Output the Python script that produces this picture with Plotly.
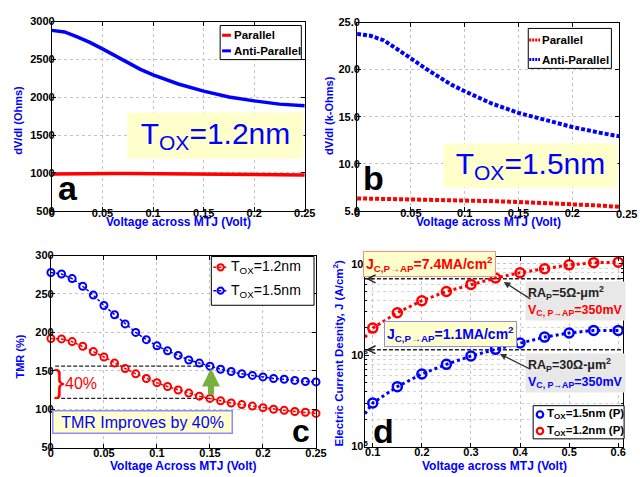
import numpy as np
import plotly.graph_objects as go

W, H = 640, 477
def X(px): return px / W
def Y(py): return 1 - py / H

FONT = "Liberation Sans"
BLUE = "#0000ff"
RED = "#ff0000"

# ---------------- data ----------------
# Panel a (Tox = 1.2 nm), dV/dI in Ohms
va = [0, 0.0125, 0.025, 0.0375, 0.05, 0.0625, 0.075, 0.0875, 0.1, 0.125, 0.15, 0.175, 0.2, 0.225, 0.25]
a_ap = [2884, 2863, 2798, 2725, 2639, 2549, 2454, 2369, 2296, 2175, 2081, 2003, 1952, 1909, 1887]
a_p = [985, 988, 990, 991, 992, 992, 991, 990, 989, 987, 985, 982, 979, 975, 972]

# Panel b (Tox = 1.5 nm), dV/dI in k-Ohms
vb = [0, 0.0125, 0.025, 0.0375, 0.05, 0.0625, 0.075, 0.0875, 0.1, 0.125, 0.15, 0.175, 0.2, 0.225, 0.244]
b_ap = [23.8, 23.6, 23.1, 22.2, 21.2, 20.2, 19.3, 18.4, 17.7, 16.4, 15.4, 14.6, 13.9, 13.3, 12.9]
b_p = [6.31, 6.29, 6.27, 6.26, 6.24, 6.22, 6.19, 6.15, 6.10, 6.02, 5.93, 5.82, 5.69, 5.55, 5.41]

# Panel c TMR (%)
vc = [round(0.01 * i, 2) for i in range(26)]
tmr_15 = [278, 276, 270, 260, 248.5, 235, 223, 211, 200, 190.5, 182.5, 176, 170, 164, 160, 156,
          152, 149, 146, 144, 142, 140, 139, 137.5, 136, 135.5]
tmr_12 = [192, 191.5, 188, 182, 175, 168, 160, 153, 146, 140, 134.5, 129.5, 125, 121, 117, 114,
          111, 108, 106, 104, 102, 100, 98.5, 97, 96, 94.5]
tmr_levels = [156, 114]

# Panel d current density (A/cm^2)
vd = [0.1, 0.15, 0.2, 0.25, 0.3, 0.35, 0.4, 0.45, 0.5, 0.55, 0.6]
j_12 = [1.98e6, 2.92e6, 3.95e6, 4.98e6, 5.96e6, 7.0e6, 8.0e6, 8.85e6, 9.75e6, 1.03e7, 1.04e7]
j_15 = [3.0e5, 4.53e5, 6.24e5, 7.95e5, 9.8e5, 1.16e6, 1.36e6, 1.58e6, 1.75e6, 1.87e6, 1.87e6]
vd_edge = 0.084
j_12_edge = 1.57e6
j_15_edge = 2.29e5
j_levels = [6.85e6, 1.15e6]

fig = go.Figure()

# ---------------- traces ----------------
fig.add_trace(go.Scatter(x=va, y=a_p, mode="lines", line=dict(color=RED, width=3.5),
                         xaxis="x", yaxis="y", showlegend=False))
fig.add_trace(go.Scatter(x=va, y=a_ap, mode="lines", line=dict(color=BLUE, width=3.5),
                         xaxis="x", yaxis="y", showlegend=False))

fig.add_trace(go.Scatter(x=vb, y=b_p, mode="lines", line=dict(color=RED, width=4, dash="4px,2px"),
                         xaxis="x2", yaxis="y2", showlegend=False))
fig.add_trace(go.Scatter(x=vb, y=b_ap, mode="lines", line=dict(color=BLUE, width=4, dash="4px,2px"),
                         xaxis="x2", yaxis="y2", showlegend=False))

# panel c dashed guide lines
for lv in tmr_levels:
    fig.add_trace(go.Scatter(x=[0.004, 0.15], y=[lv, lv], mode="lines",
                             line=dict(color="#222222", width=1.3, dash="4px,2px"),
                             xaxis="x3", yaxis="y3", showlegend=False, hoverinfo="skip"))
fig.add_trace(go.Scatter(x=vc, y=tmr_12, mode="lines+markers",
                         line=dict(color=RED, width=1.5, dash="3px,2px"),
                         marker=dict(symbol="circle-open", size=7, color=RED, line=dict(width=2)),
                         xaxis="x3", yaxis="y3", showlegend=False, cliponaxis=False))
fig.add_trace(go.Scatter(x=vc, y=tmr_15, mode="lines+markers",
                         line=dict(color=BLUE, width=1.5, dash="3px,2px"),
                         marker=dict(symbol="circle-open", size=7, color=BLUE, line=dict(width=2)),
                         xaxis="x3", yaxis="y3", showlegend=False, cliponaxis=False))

# panel d
for lv in j_levels:
    fig.add_trace(go.Scatter(x=[vd_edge, 0.61], y=[lv, lv], mode="lines",
                             line=dict(color="#222222", width=1.5, dash="4px,2px"),
                             xaxis="x4", yaxis="y4", showlegend=False, hoverinfo="skip"))
fig.add_trace(go.Scatter(x=[vd_edge] + vd, y=[j_12_edge] + j_12, mode="lines",
                         line=dict(color=RED, width=3, dash="3px,3px"),
                         xaxis="x4", yaxis="y4", showlegend=False))
fig.add_trace(go.Scatter(x=[vd_edge] + vd, y=[j_15_edge] + j_15, mode="lines",
                         line=dict(color=BLUE, width=3, dash="3px,3px"),
                         xaxis="x4", yaxis="y4", showlegend=False))
fig.add_trace(go.Scatter(x=vd, y=j_12, mode="markers",
                         marker=dict(symbol="circle-open", size=9, color=RED, line=dict(width=2.5)),
                         xaxis="x4", yaxis="y4", showlegend=False))
fig.add_trace(go.Scatter(x=vd, y=j_15, mode="markers",
                         marker=dict(symbol="circle-open", size=9, color=BLUE, line=dict(width=2.5)),
                         xaxis="x4", yaxis="y4", showlegend=False))

# ---------------- axes ----------------
tickfont = dict(family=FONT, size=11, color="black", weight="bold")
def ax(**kw):
    d = dict(showline=True, linecolor="black", linewidth=1, mirror="ticks", ticks="inside",
             ticklen=4, tickcolor="black", showgrid=True, gridcolor="#c4c4c4", griddash="dot",
             gridwidth=1, zeroline=False, tickfont=tickfont, fixedrange=True)
    d.update(kw)
    return d

XS_AB = -8
XS_CD = -5
YS = -6
layout = dict(
    xaxis=ax(domain=[X(50), X(308.5)], range=[0, 0.25], dtick=0.05, anchor="y", ticklabelstandoff=XS_AB),
    yaxis=ax(domain=[Y(210), Y(16)], range=[500, 3000], dtick=500, anchor="x", ticklabelstandoff=YS),
    xaxis2=ax(domain=[X(362), X(630)], range=[0, 0.2436], dtick=0.05, anchor="y2", ticklabelstandoff=XS_AB),
    yaxis2=ax(domain=[Y(210), Y(17)], range=[5, 25], dtick=5, tickformat=".1f", anchor="x2",
              ticklabelstandoff=YS),
    xaxis3=ax(domain=[X(49), X(320)], range=[0, 0.25], dtick=0.05, anchor="y3", ticklabelstandoff=XS_CD),
    yaxis3=ax(domain=[Y(453), Y(256)], range=[50, 300], dtick=50, anchor="x3", ticklabelstandoff=YS),
    xaxis4=ax(domain=[X(370), X(634)], range=[vd_edge, 0.61], dtick=0.1, anchor="y4", ticklabelstandoff=XS_CD),
    yaxis4=ax(domain=[Y(452), Y(257)], type="log", range=[5, 7.08], anchor="x4", ticklabelstandoff=YS,
              tickvals=[1e5, 1e6, 1e7], ticktext=["10<sup>5</sup>", "10<sup>6</sup>", "10<sup>7</sup>"],
              minor=dict(showgrid=True, gridcolor="#d4d4d4", griddash="dot", ticks="inside",
                         ticklen=2, dtick="D1")),
)

fig.update_layout(width=W, height=H, margin=dict(l=0, r=0, t=0, b=0),
                  paper_bgcolor="white", plot_bgcolor="white", showlegend=False,
                  font=dict(family=FONT), **layout)

ann = []
shapes = []
def text(px, py, t, size=12, color="black", bold=True, angle=0, xanchor="center", yanchor="middle", **kw):
    d = dict(x=X(px), y=Y(py), xref="paper", yref="paper", text=t, showarrow=False,
             font=dict(family=FONT, size=size, color=color, weight="bold" if bold else "normal"),
             textangle=angle, xanchor=xanchor, yanchor=yanchor)
    d.update(kw)
    ann.append(d)

# axis titles
text(179, 221.5, "Voltage across MTJ (Volt)", 12, BLUE)
text(15, 117, "dV/dI (Ohms)", 11, BLUE, angle=-90)
text(496, 221.5, "Voltage across MTJ (Volt)", 12, BLUE)
text(333, 112, "dV/dI (k-Ohms)", 11, BLUE, angle=-90)
text(184, 472, "Voltage Across MTJ (Volt)", 12, BLUE)
text(17, 360, "TMR (%)", 11, BLUE, angle=-90)
text(502, 472, "Voltage across MTJ (Volt)", 12, BLUE)
text(343, 356, "Electric Current Desnity, J (A/cm<sup>2</sup>)", 11.5, BLUE, angle=-90)
# the 0.25 tick label of panel b that lies just past its frame
text(637, 213, "0.25", 11, "black")

# panel letters
text(66, 187, "a", 34)
text(379, 176, "b", 34)
text(305, 436, "c", 32)
text(389, 436, "d", 34)

# Tox boxes
text(217.5, 132.5, "T<sub>OX</sub>=1.2nm", 30, BLUE, bold=False, bgcolor="#ffffcc",
     width=169, height=39, borderpad=3)
text(539.5, 163.5, "T<sub>OX</sub>=1.5nm", 30, BLUE, bold=False, bgcolor="#ffffcc",
     width=167, height=37, borderpad=3)

# TMR box
text(142.5, 427, "TMR Improves by 40%", 16, BLUE, bold=False, bgcolor="#ffffcc",
     bordercolor="#8c8cff", borderwidth=1.5, borderpad=2, width=174)
# brace and 40%
text(58, 385, "}", 32, RED, bold=False)
text(80, 387, "40%", 16, RED, bold=False)

# green arrow
ann.append(dict(x=0.151, y=153, ax=0.151, ay=117, xref="x3", yref="y3", axref="x3", ayref="y3",
                text="", showarrow=True, arrowhead=2, arrowsize=0.6, arrowwidth=6,
                arrowcolor="#76b041"))

# panel d boxes
text(436, 265, "J<sub>C,P→AP</sub>=7.4MA/cm<sup>2</sup>", 14, RED, bgcolor="#ffffcc",
     bordercolor="#ff8c8c", borderwidth=1, borderpad=2)
text(457, 336, "J<sub>C,P→AP</sub>=1.1MA/cm<sup>2</sup>", 14, BLUE, bgcolor="#ffffcc",
     bordercolor="#8c8cff", borderwidth=1, borderpad=2)
text(585.5, 302.5, "RA<sub>P</sub>=5Ω-μm<sup>2</sup><br><span style='color:#ff0000'>V<sub>C, P→AP</sub>=350mV</span>",
     12.5, "#222222", bgcolor="#e8e8e8", align="left", borderpad=2)
text(585.5, 376, "RA<sub>P</sub>=30Ω-μm<sup>2</sup><br><span style='color:#0000ff'>V<sub>C, P→AP</sub>=350mV</span>",
     12.5, "#222222", bgcolor="#e8e8e8", align="left", borderpad=2)

# black pointer arrows in d
for hx, hy, tx, ty in [(512, 283, 540, 301), (508, 357, 540, 373)]:
    ann.append(dict(x=X(hx), y=Y(hy), xref="paper", yref="paper", ax=tx - hx, ay=ty - hy,
                    text="", showarrow=True, arrowhead=2, arrowsize=1, arrowwidth=1.3,
                    arrowcolor="#333333"))
# left arrow heads of dashed lines
for lv in j_levels:
    ann.append(dict(x=vd_edge + 0.002, y=np.log10(lv), ax=vd_edge + 0.02, ay=np.log10(lv),
                    xref="x4", yref="y4", axref="x4", ayref="y4", text="", showarrow=True,
                    arrowhead=5, arrowsize=1.2, arrowwidth=1.3, arrowcolor="#222222"))

# ---------- manual legends ----------
def rect(x0, y0, x1, y1):
    shapes.append(dict(type="rect", xref="paper", yref="paper", x0=X(x0), x1=X(x1), y0=Y(y1), y1=Y(y0),
                       line=dict(color="black", width=1), fillcolor="white", layer="above"))
def seg(x0, x1, y, color, width, dash="solid"):
    shapes.append(dict(type="line", xref="paper", yref="paper", x0=X(x0), x1=X(x1), y0=Y(y), y1=Y(y),
                       line=dict(color=color, width=width, dash=dash), layer="above"))
def circ(cx, cy, r, color, width):
    shapes.append(dict(type="circle", xref="paper", yref="paper", x0=X(cx - r), x1=X(cx + r),
                       y0=Y(cy + r), y1=Y(cy - r), line=dict(color=color, width=width), layer="above"))

# legend a
rect(222, 20, 305, 55)
seg(224, 233, 30, RED, 3)
seg(224, 233, 46, BLUE, 3)
text(234, 30, "Parallel", 11.5, xanchor="left")
text(234, 46, "Anti-Parallel", 11.5, xanchor="left")
# legend b
rect(537, 23, 622, 64)
seg(538, 549, 35, RED, 3, "2px,1px")
seg(538, 549, 55, BLUE, 3, "2px,1px")
text(549.5, 35, "Parallel", 11.5, xanchor="left")
text(549.5, 55, "Anti-Parallel", 11.5, xanchor="left")
# legend c
rect(213, 257, 318, 307)
seg(215, 230, 268, RED, 1.5, "3px,2px")
circ(222.5, 268, 3.2, RED, 2)
seg(215, 230, 292, BLUE, 1.5, "3px,2px")
circ(222.5, 292, 3.2, BLUE, 2)
text(231, 268, "T<sub>OX</sub>=1.2nm", 14, bold=False, xanchor="left")
text(231, 292, "T<sub>OX</sub>=1.5nm", 14, bold=False, xanchor="left")
# legend d
rect(542, 410, 635, 444)
circ(549, 419, 3.3, BLUE, 2.2)
circ(549, 436, 3.3, RED, 2.2)
text(554, 419, "T<sub>OX</sub>=1.5nm (P)", 11.5, xanchor="left")
text(554, 436, "T<sub>OX</sub>=1.2nm (P)", 11.5, xanchor="left")

fig.update_layout(annotations=ann, shapes=shapes)
fig.write_html("out.html", config={"displayModeBar": False},
               post_script="document.body.style.margin='0';document.body.style.overflow='hidden';")
